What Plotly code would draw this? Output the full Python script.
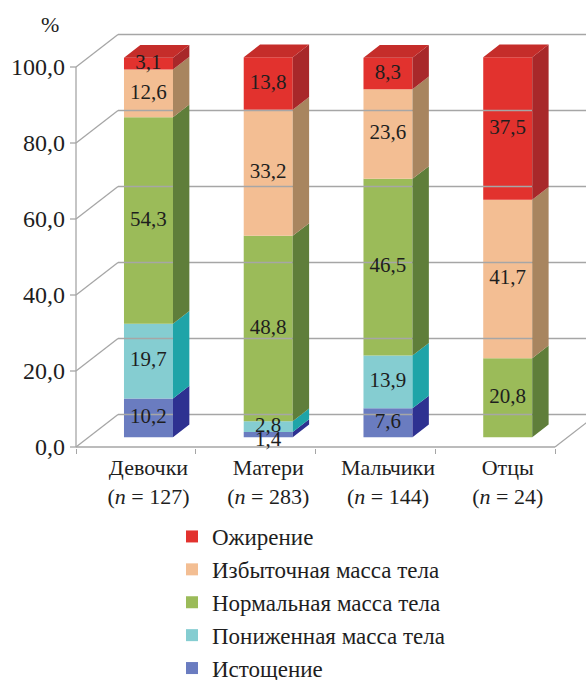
import plotly.graph_objects as go

# ---- data -------------------------------------------------------------
categories = ["Девочки", "Матери", "Мальчики", "Отцы"]
sample_sizes = [127, 283, 144, 24]

series_names = [
    "Истощение",
    "Пониженная масса тела",
    "Нормальная масса тела",
    "Избыточная масса тела",
    "Ожирение",
]
exhaustion = [10.2, 1.4, 7.6, 0.0]
underweight = [19.7, 2.8, 13.9, 0.0]
normal_weight = [54.3, 48.8, 46.5, 20.8]
overweight = [12.6, 33.2, 23.6, 41.7]
obesity = [3.1, 13.8, 8.3, 37.5]

y_ticks = [0, 20, 40, 60, 80, 100]

# ---- styling ----------------------------------------------------------
front_colors = ["#6A7CC0", "#85CDD1", "#9BBB59", "#F3BE93", "#E2322E"]
side_colors = ["#2E3191", "#1FA4A8", "#5F7E3A", "#A8855F", "#A8282A"]
top_color = "#C52D2A"
grid_color = "#A6A6A6"
text_color = "#1E1E1E"
FONT = "'Liberation Serif', 'Times New Roman', 'DejaVu Serif', serif"

W, H = 586, 680
M_L, M_R, M_T, M_B = 70, 0, 25, 232
PX_X = 119.75          # pixels per category slot
PX_Y = 3.8             # pixels per percent
DEPTH_X = 42 / PX_X    # full floor depth, x component (data units)
DEPTH_Y = 32.5 / PX_Y  # full floor depth, y component (data units)
F0 = 0.3               # bar front position within the depth
FB = 0.39              # bar depth as a share of the floor depth
HALF_W = 24.5 / PX_X   # half width of a bar front face

x_min = -0.5 - 6 / PX_X
x_max = x_min + (W - M_L - M_R) / PX_X
y_min = -1 / PX_Y
y_max = y_min + (H - M_T - M_B) / PX_Y

series = [exhaustion, underweight, normal_weight, overweight, obesity]
n_cat = len(categories)

fig = go.Figure()

# ---- walls and floor --------------------------------------------------
gx, gy = [], []
for v in y_ticks:
    # back wall gridline
    gx += [-0.5 + DEPTH_X, x_max + 1, None]
    gy += [v + DEPTH_Y, v + DEPTH_Y, None]
    # side wall diagonal
    gx += [-0.5, -0.5 + DEPTH_X, None]
    gy += [v, v + DEPTH_Y, None]
    # tick mark on the front axis
    gx += [x_min, -0.5, None]
    gy += [v, v, None]
# front axis, front floor edge and right floor edge
gx += [-0.5, -0.5, None, -0.5, n_cat - 0.5, None, n_cat - 0.5, n_cat - 0.5 + DEPTH_X]
gy += [0, 100, None, 0, 0, None, 0, DEPTH_Y]
fig.add_trace(go.Scatter(x=gx, y=gy, mode="lines",
                         line=dict(color=grid_color, width=1.3),
                         hoverinfo="skip", showlegend=False))

# ---- stacked 3D bars --------------------------------------------------
fx0 = F0 * DEPTH_X
fy0 = F0 * DEPTH_Y
bx = FB * DEPTH_X
by = FB * DEPTH_Y

bases = [[0.0] * n_cat for _ in series]
for i in range(n_cat):
    acc = 0.0
    for s, vals in enumerate(series):
        bases[s][i] = acc
        acc += vals[i]
totals = [sum(vals[i] for vals in series) for i in range(n_cat)]

centers = [i + fx0 for i in range(n_cat)]

for s, vals in enumerate(series):
    fig.add_trace(go.Bar(
        x=centers, y=vals, base=[b + fy0 for b in bases[s]],
        width=2 * HALF_W, name=series_names[s],
        legendrank=len(series) - s,
        marker=dict(color=front_colors[s], line=dict(width=0)),
        hoverinfo="skip",
    ))
    sx, sy = [], []
    for i in range(n_cat):
        if vals[i] <= 0:
            continue
        xr = centers[i] + HALF_W
        y0 = bases[s][i] + fy0
        y1 = y0 + vals[i]
        sx += [xr, xr + bx, xr + bx, xr, xr, None]
        sy += [y0, y0 + by, y1 + by, y1, y0, None]
    fig.add_trace(go.Scatter(x=sx, y=sy, mode="lines", fill="toself",
                             fillcolor=side_colors[s], line=dict(width=0),
                             hoverinfo="skip", showlegend=False))

# top faces
tx, ty = [], []
for i in range(n_cat):
    xl = centers[i] - HALF_W
    xr = centers[i] + HALF_W
    yt = totals[i] + fy0
    tx += [xl, xr, xr + bx, xl + bx, xl, None]
    ty += [yt, yt, yt + by, yt + by, yt, None]
fig.add_trace(go.Scatter(x=tx, y=ty, mode="lines", fill="toself",
                         fillcolor=top_color, line=dict(width=0),
                         hoverinfo="skip", showlegend=False))

# value labels
lx, ly, lt = [], [], []
for s, vals in enumerate(series):
    for i in range(n_cat):
        v = vals[i]
        if v <= 0:
            continue
        if v < 2:
            yc = bases[s][i] + fy0 - 0.9
        else:
            yc = bases[s][i] + fy0 + v / 2
        lx.append(centers[i])
        ly.append(yc)
        lt.append(f"{v:.1f}".replace(".", ","))
fig.add_trace(go.Scatter(x=lx, y=ly, mode="text", text=lt,
                         textfont=dict(family=FONT, size=21, color=text_color),
                         hoverinfo="skip", showlegend=False, cliponaxis=False))

# ---- axes & layout ----------------------------------------------------
fig.update_xaxes(
    range=[x_min, x_max], showgrid=False, zeroline=False, showline=False,
    tickmode="array", tickvals=centers,
    ticktext=[f"{c}<br>(<i>n</i> = {n})" for c, n in zip(categories, sample_sizes)],
    ticks="", ticklabelstandoff=4,
    tickfont=dict(family=FONT, size=22, color=text_color),
    minor=dict(tickmode="array", tickvals=[i - 0.5 for i in range(n_cat + 1)],
               ticks="outside", ticklen=5, tickcolor=grid_color, tickwidth=1.3,
               showgrid=False),
    fixedrange=True,
)
fig.update_yaxes(
    range=[y_min, y_max], showgrid=False, zeroline=False, showline=False,
    tickmode="array", tickvals=y_ticks,
    ticktext=[f"{v:.1f}".replace(".", ",") for v in y_ticks],
    ticks="", ticklabelstandoff=4,
    tickfont=dict(family=FONT, size=24, color=text_color),
    fixedrange=True,
)

fig.add_annotation(text="%", xref="paper", yref="paper",
                   x=(50 - M_L) / (W - M_L - M_R), y=(H - M_B - 24) / (H - M_T - M_B),
                   showarrow=False, xanchor="center", yanchor="middle",
                   font=dict(family=FONT, size=22, color=text_color))

fig.update_layout(
    width=W, height=H,
    margin=dict(l=M_L, r=M_R, t=M_T, b=M_B, autoexpand=False),
    paper_bgcolor="white", plot_bgcolor="white",
    barmode="overlay",
    showlegend=True,
    legend=dict(
        x=(172 - M_L) / (W - M_L - M_R), xanchor="left",
        y=(H - M_B - 515) / (H - M_T - M_B), yanchor="top",
        traceorder="normal",
        font=dict(family=FONT, size=23, color=text_color),
        bgcolor="rgba(0,0,0,0)", itemwidth=30,
    ),
    font=dict(family=FONT),
)

fig.write_html("out.html")
